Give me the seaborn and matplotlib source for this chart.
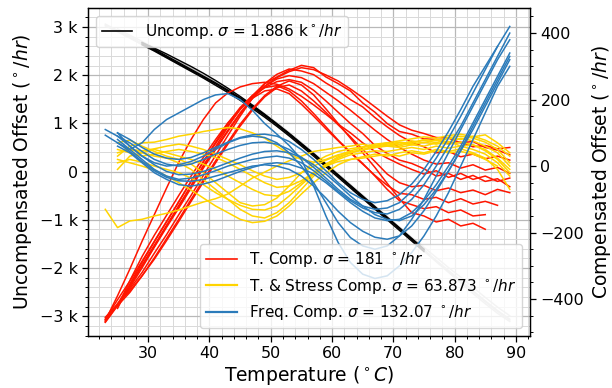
import numpy as np
import pandas as pd
import matplotlib
matplotlib.use("Agg")
import matplotlib.pyplot as plt
import seaborn as sns
from matplotlib.ticker import EngFormatter, MultipleLocator
from matplotlib.lines import Line2D

# Temperature grid (deg C)
T = [23, 25, 27, 29, 31, 33, 35, 37, 39, 41, 43, 45, 47, 49, 51, 53, 55,
     57, 59, 61, 63, 65, 67, 69, 71, 73, 75, 77, 79, 81, 83, 85, 87, 89]

# Uncompensated runs (deg/hr), left axis: (start temperature, values)
uncomp_gray = [
    (23, [3060, 2930, 2800, 2660, 2530, 2390, 2250, 2110, 1970, 1830, 1680, 1520, 1350, 1170, 980, 780, 570,
          360, 140, -80, -300, -520, -740, -960, -1180, -1400, -1620, -1840, -2050, -2260, -2470, -2680, -2880, -3060]),
    (23, [3020, 2900, 2770, 2630, 2500, 2360, 2220, 2080, 1940, 1790, 1640, 1480, 1310, 1130, 940, 740, 530,
          320, 110, -110, -330, -550, -770, -990, -1210, -1430, -1650, -1870, -2090, -2310, -2530, -2740, -2940, -3110]),
    (25, [2960, 2830, 2700, 2570, 2430, 2290, 2150, 2000, 1860, 1710, 1550, 1380, 1200, 1010, 810, 600,
          390, 170, -50, -270, -490, -710, -930, -1150, -1370, -1570, -1780, -1990, -2190, -2400, -2610, -2810, -2990]),
    (23, [3040, 2910, 2780, 2640, 2510, 2370, 2230, 2090, 1950, 1810, 1660, 1500, 1330, 1150, 960, 760, 550,
          340, 120, -100, -320, -540, -760, -980, -1200, -1420, -1640, -1860, -2070, -2280, -2490, -2700, -2900, -3080]),
]
uncomp_black = [
    (29, [2650, 2520, 2380, 2240, 2100, 1960, 1820, 1670, 1510, 1340, 1160, 970, 770, 560, 350, 130,
          -90, -310, -530, -750, -970, -1190, -1410, -1630]),
    (29, [2680, 2560, 2440, 2310, 2180, 2040, 1890, 1730, 1560, 1380, 1190, 990, 790, 580, 370, 150,
          -70, -290, -510, -730, -950, -1170, -1390, -1610]),
    (29, [2630, 2500, 2360, 2220, 2080, 1940, 1790, 1640, 1480, 1310, 1130, 940, 740, 530, 320, 100,
          -120, -340, -560, -780, -1000, -1220, -1440, -1660]),
    (29, [2670, 2540, 2400, 2260, 2120, 1980, 1840, 1690, 1530, 1360, 1180, 990, 790, 580, 370, 150,
          -70, -290, -510, -730, -950, -1170, -1390, -1610]),
]

# Compensated runs (deg/hr), right axis
t_comp = [
    (23, [-468, -418, -362, -300, -242, -178, -122, -58, 2, 58, 118, 172, 212, 248, 268, 288, 303, 296, 268, 248,
          226, 190, 162, 128, 104, 96, 82, 80, 68, 72, 58, 62, 52, 56]),
    (23, [-455, -415, -370, -320, -262, -206, -146, -88, -28, 32, 92, 150, 204, 248, 276, 292, 286, 275, 250, 228,
          200, 178, 146, 118, 92, 72, 58, 40, 44, 28, 36, 22, 30, 18]),
    (25, [-428, -355, -290, -228, -168, -106, -46, 12, 68, 122, 170, 208, 236, 254, 260, 252, 228, 196, 162, 128,
          98, 62, 38, 18, 8, -8, -30, -22, -40, -28, -46, -38, -62]),
    (23, [-460, -402, -346, -286, -226, -166, -108, -46, 14, 72, 128, 176, 212, 236, 242, 226, 196, 158, 118, 78,
          42, 8, -30, -70, -104, -116, -128, -122, -140, -132, -150, -146]),
    (25, [-420, -380, -330, -276, -218, -160, -100, -42, 16, 72, 126, 172, 212, 240, 256, 244, 214, 172, 128, 84,
          40, -4, -52, -98, -140, -150, -168, -160, -180, -172, -190]),
    (23, [-465, -390, -310, -226, -146, -66, 12, 80, 140, 190, 220, 238, 248, 252, 246, 232, 210, 184, 156, 126,
          100, 70, 44, 24, 6, -10, -24, -14, -34, -22, -40, -30, -46, -36]),
    (23, [-462, -414, -358, -298, -238, -180, -118, -60, -2, 52, 108, 160, 204, 240, 266, 284, 296, 290, 274, 256,
          232, 206, 178, 150, 124, 108, 98, 86, 84, 70, 74, 56, 48, 34]),
    (25, [-422, -345, -272, -208, -148, -88, -30, 26, 80, 130, 172, 204, 226, 232, 218, 186, 150, 112, 76, 40,
          6, -28, -58, -82, -86, -100, -94, -110, -98, -114, -106, -118]),
    (23, [-470, -420, -366, -306, -244, -184, -126, -66, -6, 50, 104, 156, 204, 240, 262, 272, 266, 248, 222, 196,
          168, 138, 108, 80, 56, 36, 18, 6, 10, -6, 4, -12, -4, -22]),
    (25, [-415, -375, -330, -280, -224, -166, -106, -48, 10, 66, 120, 168, 208, 236, 244, 226, 196, 162, 124, 88,
          50, 14, -24, -50, -62, -58, -74, -66, -80, -72, -86, -70, -80]),
]
ts_comp = [
    (23, [-130, -185, -165, -160, -150, -142, -132, -120, -108, -98, -84, -60, -36, -18, 0, 16, 30, 44, 50, 56,
          60, 66, 58, 62, 70, 64, 72, 66, 74, 60, 64, 46, 20, -20]),
    (25, [40, 50, 40, 30, 24, 10, -10, -40, -70, -100, -130, -150, -156, -140, -110, -70, -30, 0, 20, 34,
          40, 46, 44, 50, 56, 50, 60, 54, 60, 50, 36, 10, -30]),
    (25, [70, 78, 60, 44, 30, 20, 6, -20, -50, -80, -110, -120, -116, -96, -60, -20, 10, 30, 44, 52,
          58, 66, 70, 64, 76, 70, 80, 72, 84, 76, 60, 40, 0]),
    (25, [30, 60, 70, 72, 80, 90, 96, 104, 110, 116, 112, 100, 84, 60, 36, 20, 12, 20, 34, 42,
          50, 56, 62, 60, 72, 78, 70, 84, 80, 90, 78, 60, 30]),
    (25, [10, 20, 12, 0, -10, -20, -36, -56, -80, -100, -118, -130, -132, -120, -90, -56, -24, 0, 14, 20,
          28, 36, 30, 40, 46, 40, 50, 44, 52, 40, 24, -10, -70]),
    (27, [50, 46, 52, 60, 66, 60, 50, 36, 20, 4, -14, -30, -40, -34, -20, 0, 18, 32, 46, 56,
          62, 70, 76, 82, 88, 84, 92, 96, 88, 94, 70, 40]),
    (25, [20, 10, 0, -12, -30, -50, -72, -96, -120, -140, -160, -170, -166, -150, -120, -84, -50, -20, 4, 20,
          24, 30, 36, 30, 40, 36, 46, 40, 44, 36, 20, 0]),
    (25, [50, 40, 30, 36, 44, 50, 44, 36, 26, 10, -10, -30, -50, -64, -60, -44, -20, 4, 24, 40,
          48, 56, 60, 56, 64, 60, 70, 66, 72, 64, 50, 24, -10]),
    (25, [-10, 30, 40, 50, 40, 30, 20, 6, -10, -30, -50, -70, -86, -90, -76, -50, -20, 6, 28, 40,
          50, 60, 66, 72, 68, 80, 76, 86, 90, 84, 72, 50, 10]),
]
f_comp = [
    (23, [93, 70, 50, 70, 110, 140, 160, 180, 200, 214, 218, 200, 168, 128, 96, 62, 20, -60, -150, -230,
          -290, -325, -338, -330, -300, -260, -210, -150, -80, 0, 80, 160, 240, 300]),
    (25, [100, 60, 30, 10, 0, 4, 14, 30, 50, 70, 84, 90, 86, 70, 40, 0, -50, -110, -170, -215,
          -240, -250, -240, -210, -160, -100, -30, 40, 110, 180, 250, 320, 380]),
    (25, [80, 50, 20, -10, -30, -40, -36, -26, -14, 0, 10, 20, 26, 30, 24, 10, -14, -44, -76, -104,
          -126, -140, -144, -130, -100, -56, 0, 60, 120, 190, 260, 330, 400]),
    (25, [60, 40, 10, -20, -40, -56, -60, -54, -44, -30, -16, -4, 6, 10, 6, -6, -24, -50, -80, -110,
          -136, -156, -164, -160, -140, -104, -56, 0, 60, 130, 200, 270, 340]),
    (25, [90, 70, 44, 20, 6, 0, 6, 20, 36, 50, 62, 70, 72, 66, 50, 26, -4, -36, -70, -100,
          -120, -130, -126, -110, -76, -30, 24, 84, 150, 220, 290, 360, 420]),
    (23, [110, 90, 60, 30, 4, -16, -26, -24, -16, -4, 10, 24, 36, 44, 46, 40, 26, 4, -24, -56,
          -90, -120, -146, -160, -164, -150, -116, -70, -14, 46, 110, 180, 250, 320]),
    (25, [70, 44, 14, -14, -34, -44, -46, -40, -30, -20, -10, 0, 4, 0, -10, -30, -60, -96, -136, -170,
          -196, -214, -220, -210, -180, -134, -76, -16, 50, 120, 190, 260, 330]),
    (25, [100, 80, 56, 36, 24, 20, 26, 40, 56, 72, 86, 94, 96, 90, 74, 50, 20, -14, -50, -80,
          -100, -110, -104, -86, -54, -10, 44, 104, 170, 240, 300, 360]),
]

labels_left = ["Uncomp. $\\sigma$ = 1.886 k$^\\circ/hr$"]
labels_right = ["T. Comp. $\\sigma$ = 181 $^\\circ/hr$",
                "T. & Stress Comp. $\\sigma$ = 63.873 $^\\circ/hr$",
                "Freq. Comp. $\\sigma$ = 132.07 $^\\circ/hr$"]


def to_frame(curves, name):
    rows = []
    for k, (start, vals) in enumerate(curves):
        i0 = T.index(start)
        for t, v in zip(T[i0:i0 + len(vals)], vals):
            rows.append((name, f"{name}{k}", t, v))
    return pd.DataFrame(rows, columns=["group", "run", "Temperature", "Offset"])


plt.rcParams["font.family"] = ["DejaVu Sans"]
plt.rcParams["font.size"] = 11
plt.rcParams["mathtext.fontset"] = "dejavusans"

fig, ax = plt.subplots(figsize=(6.12, 3.88), dpi=100)
fig.subplots_adjust(left=0.144, right=0.866, bottom=0.134, top=0.979)
ax2 = ax.twinx()

# grid (left axis)
ax.set_axisbelow(True)
ax.grid(which="major", color="#b8b8b8", lw=0.9)
ax.grid(which="minor", color="#d9d9d9", lw=0.7)

sns.lineplot(data=to_frame(uncomp_gray, "g"), x="Temperature", y="Offset", units="run",
             estimator=None, color="#c4c4c4", lw=1.0, ax=ax, legend=False, sort=False)
sns.lineplot(data=to_frame(uncomp_black, "k"), x="Temperature", y="Offset", units="run",
             estimator=None, color="black", lw=1.0, ax=ax, legend=False, sort=False)

colors = {"red": "#ff1500", "yellow": "#ffd400", "blue": "#2b7bba"}
for curves, c in [(t_comp, colors["red"]), (ts_comp, colors["yellow"]), (f_comp, colors["blue"])]:
    sns.lineplot(data=to_frame(curves, c), x="Temperature", y="Offset", units="run",
                 estimator=None, color=c, lw=1.1, ax=ax2, legend=False, sort=False)

ax.set_xlim(20.2, 92.3)
ax.set_ylim(-3410, 3390)
ax2.set_ylim(-511, 475)

ax.xaxis.set_major_locator(MultipleLocator(10))
ax.xaxis.set_minor_locator(MultipleLocator(2))
ax.yaxis.set_major_locator(MultipleLocator(1000))
ax.yaxis.set_minor_locator(MultipleLocator(200))
ax.yaxis.set_major_formatter(EngFormatter())
ax2.yaxis.set_major_locator(MultipleLocator(200))
ax2.yaxis.set_minor_locator(MultipleLocator(50))

for a in (ax, ax2):
    a.tick_params(which="major", length=4, width=0.9, labelsize=11.5, direction="out")
    a.tick_params(which="minor", length=2.5, width=0.7, direction="out")
    for s in a.spines.values():
        s.set_color("black")
        s.set_linewidth(0.9)

ax.set_xlabel("Temperature ($^\\circ C$)", fontsize=13.5, labelpad=1.5)
ax.set_ylabel("Uncompensated Offset ($^\\circ/hr$)", fontsize=13.5)
ax2.set_ylabel("Compensated Offset ($^\\circ/hr$)", fontsize=13.5, rotation=90)

ax.legend([Line2D([], [], color="black", lw=1.2)], labels_left, loc="upper left", fontsize=11)
ax2.legend([Line2D([], [], color=colors["red"], lw=1.2),
            Line2D([], [], color=colors["yellow"], lw=1.6),
            Line2D([], [], color=colors["blue"], lw=1.6)],
           labels_right, loc="lower right", fontsize=11)

fig.savefig("out.png", dpi=100)
